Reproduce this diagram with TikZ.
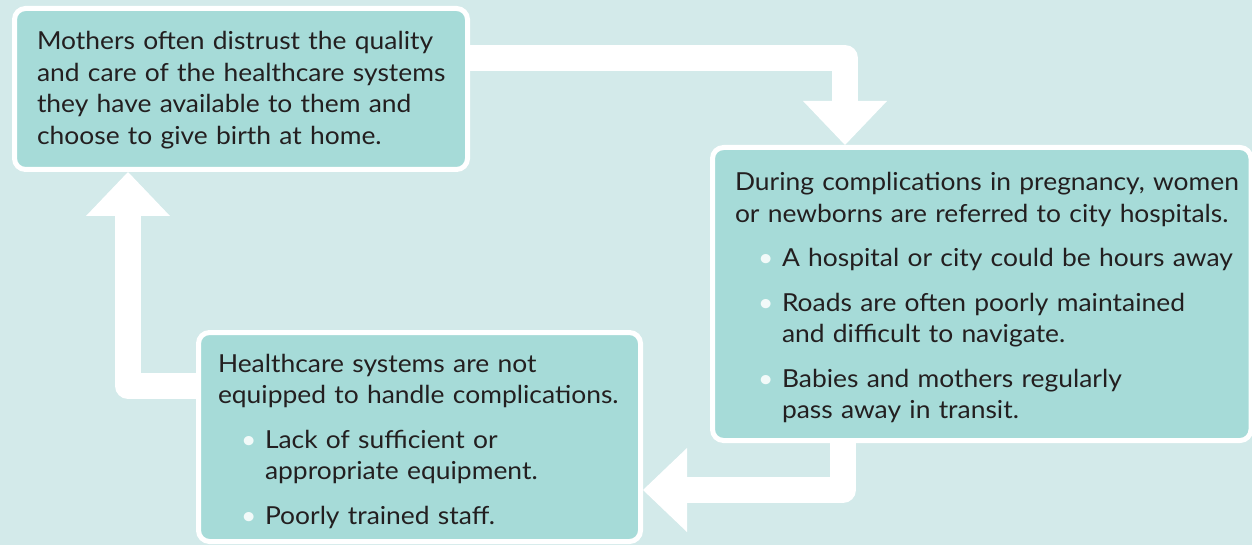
\documentclass[tikz,border=0pt]{standalone}
\usepackage{fontspec}
\setmainfont{Lato}[FakeStretch=1.065]
\usepackage{tikz}
\usetikzlibrary{arrows.meta,calc,positioning}
\definecolor{backdrop}{HTML}{D3EAEA}
\definecolor{cardfill}{HTML}{A6DBD8}
\definecolor{ink}{HTML}{231F20}
\definecolor{dotfill}{HTML}{F2FAF9}
\newdimen\shaftdim
\shaftdim=26pt
\tikzstyle{card}=[
  draw=white,
  fill=cardfill,
  inner sep=0pt,
  line width=5pt,
  rectangle,
  rounded corners=11pt,
]
\tikzstyle{cardtext}=[
  align=left,
  anchor=base west,
  color=ink,
  font={\fontsize{24.8}{31.5}\selectfont},
  inner sep=0pt,
  outer sep=0pt,
]
\tikzstyle{flow}=[
  draw=white,
  line join=round,
  line width=\shaftdim,
  -{Triangle[width=84pt,length=44pt,line width=0pt]},
]
\newcommand{\bul}{\makebox[47pt][l]{\hspace{23pt}{\color{dotfill}\textbullet}}}
\newcommand{\cont}{\hspace*{47pt}}

\begin{document}
\begin{tikzpicture}[x=1pt,y=-1pt]
    \useasboundingbox (0,0) rectangle (1252,545);
    \clip (0,0) rectangle (1252,545);
    \fill [backdrop] (0,0) rectangle (1252,545);
    % the three cards
    \node (distrust) [card, minimum width=453pt, minimum height=161pt] at (241,89) {};
    \node (referral) [card, minimum width=538.5pt, minimum height=293pt] at (981.75,294) {};
    \node (equipment) [card, minimum width=442pt, minimum height=209pt] at (419.5,437) {};
    % the loop between them
    \draw [flow] ([yshift=31pt]distrust.east) -| ([xshift=-136.75pt]referral.north);
    \draw [flow] ([xshift=-138.75pt]referral.south) |- ([yshift=-53pt]equipment.east);
    \draw [flow] ([yshift=51pt]equipment.west) -| ([xshift=-113pt]distrust.south);
    % texts
    \node (distrusttext) [cardtext, text width=430pt] at ($(distrust.north west)+(25,44)$)
      {Mothers often distrust the quality\\
       and care of the healthcare systems\\
       they have available to them and\\
       choose to give birth at home.};
    \node (referraltext) [cardtext, text width=530pt] at ($(referral.north west)+(25,46)$)
      {During complications in pregnancy, women\\
       or newborns are referred to city hospitals.\\[13pt]
       \bul A hospital or city could be hours away\\[13pt]
       \bul Roads are often poorly maintained\\
       \cont and difficult to navigate.\\[13pt]
       \bul Babies and mothers regularly\\
       \cont pass away in transit.};
    \node (equipmenttext) [cardtext, text width=420pt] at ($(equipment.north west)+(22,42)$)
      {Healthcare systems are not\\
       equipped to handle complications.\\[13pt]
       \bul Lack of sufficient or\\
       \cont appropriate equipment.\\[13pt]
       \bul Poorly trained staff.};
  \end{tikzpicture}
\end{document}
